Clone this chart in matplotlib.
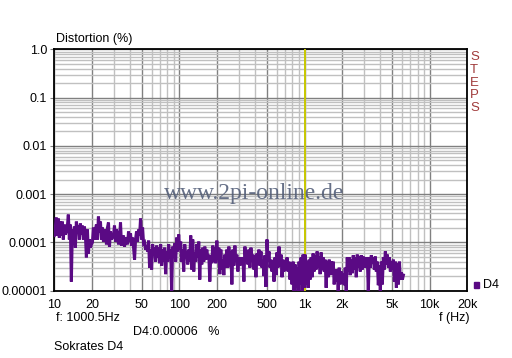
import numpy as np
import matplotlib
matplotlib.use("Agg")
import matplotlib.pyplot as plt
from matplotlib.ticker import FixedLocator, NullFormatter, LogLocator

plt.rcParams['font.family'] = ['Liberation Sans', 'DejaVu Sans']

# ---- data (distortion values in units of 1e-5 %) ----
f_start = 10.0
f_stop = 6170.0
d4_seg_a = [13.9, 20.3, 32.7, 13.9, 31.2, 12.6, 27.0, 13.9, 27.0, 11.5, 23.4, 14.6, 16.8, 21.3, 37.7, 11.5,
            23.4, 1.55, 18.5, 9.1, 21.3, 7.8, 27.0, 16.8, 22.3, 11.5, 24.6, 14.6, 22.3, 11.5, 21.3, 13.9,
            4.9, 18.5, 5.9, 11.5, 7.8, 9.1, 10.0, 20.3, 11.5, 18.5, 23.4, 11.5, 34.3, 16.0, 27.0, 11.5,
            20.3, 10.4, 12.6, 18.5, 9.1, 20.3, 25.8, 8.2, 16.8, 11.5, 12.6, 13.9, 22.3, 10.4, 18.5, 13.9]
d4_seg_b = [9.1, 12.6, 25.8, 8.6, 11.5, 13.9, 8.2, 12.6, 11.5, 9.1, 16.8, 10.4, 15.3, 8.6, 12.6, 7.8,
            4.4, 11.5, 16.8, 10.4, 18.5, 13.9, 31.2, 11.5, 20.3, 9.5, 10.0, 7.1, 8.6, 6.5, 10.9, 3.0,
            7.1, 2.75, 9.1, 5.4, 7.8, 4.0, 8.6, 4.9, 7.8, 3.7, 9.1, 3.3, 7.1, 4.0, 7.8, 2.2,
            6.5, 4.0, 9.1, 5.4, 7.1, 0.95, 8.2, 4.9, 9.5, 4.0, 12.6, 6.5, 14.6, 7.1]
d4_seg_c = [10.4, 4.0, 7.1, 2.5, 9.1, 5.6, 6.5, 3.5, 7.1, 4.0, 13.9, 2.75, 11.5, 2.5, 6.2, 4.0,
            9.1, 4.9, 10.4, 1.7, 7.1, 3.5, 7.8, 4.0, 8.2, 4.4, 7.1, 4.9, 5.6, 1.55, 5.4, 3.7,
            8.6, 4.0, 7.8, 3.7, 10.9, 4.4, 7.8, 2.2, 7.1, 2.75, 4.4, 2.1, 5.6, 3.0, 7.1, 3.0,
            8.2, 4.0, 6.5, 1.35, 7.1, 3.3, 8.6, 4.0, 5.6, 2.5, 4.9, 3.3, 4.9, 3.5]
d4_seg_d = [4.9, 1.55, 8.2, 4.0, 6.5, 3.5, 7.1, 3.0, 7.8, 4.0, 5.6, 2.75, 5.4, 1.9, 5.9, 4.0,
            7.1, 3.3, 6.5, 3.0, 4.0, 2.0, 5.4, 1.2, 11.5, 4.0, 6.5, 3.0, 4.4, 2.5, 4.0, 1.55,
            4.9, 2.1, 6.2, 3.0, 8.2, 3.3, 5.6, 1.9, 4.4, 2.5, 4.0, 2.75, 4.9, 2.5, 4.0, 1.7,
            3.7, 1.35, 4.0, 0.95, 3.5, 1.15, 3.0, 0.95, 4.0, 1.35, 4.9, 0.95, 5.6, 1.15]
d4_seg_e = [5.6, 1.35, 4.0, 1.15, 4.4, 1.7, 4.9, 1.9, 5.9, 2.5, 5.4, 2.75, 6.5, 3.0, 5.1, 2.2,
            6.2, 2.75, 4.9, 2.5, 4.4, 1.15, 4.0, 1.9, 4.4, 2.1, 4.0, 2.2, 4.0, 1.35, 2.75, 1.55,
            2.75, 0.95, 3.0, 1.35, 2.5, 1.4, 2.3, 1.3, 3.0, 0.95, 4.9, 2.5, 4.9, 2.1, 4.4, 2.3,
            5.4, 2.75, 4.9, 1.9, 5.6, 3.0, 5.1, 2.5, 5.4, 2.75, 5.1, 3.0, 4.9, 3.0]
d4_seg_f = [4.9, 0.95, 4.9, 3.0, 5.4, 3.7, 4.9, 2.75, 5.1, 2.5, 4.0, 1.3, 3.3, 0.95, 4.0, 1.35,
            4.9, 2.75, 6.5, 3.5, 5.6, 3.0, 4.9, 2.5, 4.0, 2.75, 4.4, 1.55, 4.0, 1.15, 3.7, 1.35,
            4.0, 1.7, 2.4, 1.7, 2.1]
marker_freq = 1000.5
x_ticks = [10, 20, 50, 100, 200, 500, 1000, 2000, 5000, 10000, 20000]
x_labels = ['10', '20', '50', '100', '200', '500', '1k', '2k', '5k', '10k', '20k']
y_ticks = [1e-5, 1e-4, 1e-3, 1e-2, 1e-1, 1.0]
y_labels = ['0.00001', '0.0001', '0.001', '0.01', '0.1', '1.0']

d4 = np.array(d4_seg_a + d4_seg_b + d4_seg_c + d4_seg_d + d4_seg_e + d4_seg_f) * 1e-5
freqs = np.geomspace(f_start, f_stop, len(d4))

W, H = 512, 358
fig = plt.figure(figsize=(W / 100, H / 100), dpi=100)
fig.patch.set_facecolor('white')
ax = fig.add_axes([54.3 / W, 1 - 290.7 / H, (467.3 - 54.3) / W, (290.7 - 49.3) / H])
ax.set_xscale('log')
ax.set_yscale('log')
ax.set_xlim(10, 20000)
ax.set_ylim(1e-5, 1.0)

# grid
ax.xaxis.set_minor_locator(LogLocator(base=10, subs=np.arange(2, 10)))
ax.yaxis.set_minor_locator(LogLocator(base=10, subs=np.arange(2, 10)))
ax.grid(True, which='minor', color='#c0c0c0', lw=1.0)
ax.grid(True, which='major', color='#808080', lw=1.0)
ax.set_axisbelow(True)

ax.xaxis.set_major_locator(FixedLocator(x_ticks))
ax.set_xticklabels(x_labels)
ax.yaxis.set_major_locator(FixedLocator(y_ticks))
ax.set_yticklabels(y_labels)
ax.xaxis.set_minor_formatter(NullFormatter())
ax.yaxis.set_minor_formatter(NullFormatter())
ax.tick_params(which='minor', length=0)
ax.tick_params(which='major', length=3, color='#808080', labelsize=9, pad=2)
ax.tick_params(axis='x', which='major', length=0, pad=6)

for s in ax.spines.values():
    s.set_color('black')
    s.set_linewidth(1.3)

ax.axvline(marker_freq, color='#c8c800', lw=1.4, zorder=3)
ax.plot(freqs, d4, color='#5a0a84', lw=2.2, solid_joinstyle='miter', zorder=4)

# texts
fig.text(56 / W, 1 - 39 / H, 'Distortion (%)', fontsize=9, va='center', ha='left')
fig.text(439 / W, 1 - 318 / H, 'f (Hz)', fontsize=9, va='center', ha='left')
fig.text(56 / W, 1 - 318 / H, 'f: 1000.5Hz', fontsize=9, va='center', ha='left')
fig.text(133 / W, 1 - 332 / H, 'D4:0.00006   %', fontsize=9, va='center', ha='left')
fig.text(54 / W, 1 - 347 / H, 'Sokrates D4', fontsize=9, va='center', ha='left')
fig.text(254 / W, 1 - 193 / H, 'www.2pi-online.de', fontsize=17, va='center', ha='center',
         family=['Liberation Serif', 'DejaVu Serif'], color='#55607a', alpha=0.9, zorder=5)
for i, ch in enumerate('STEPS'):
    fig.text(470 / W, 1 - (57 + i * 12.8) / H, ch, fontsize=9.5, va='center', ha='left', color='#a03a3a')
# legend
fig.patches.append(plt.Rectangle((474 / W, 1 - 288 / H), 5 / W, 6 / H, transform=fig.transFigure,
                                 color='#5a0a84', figure=fig))
fig.text(483 / W, 1 - 285 / H, 'D4', fontsize=9, va='center', ha='left')

fig.savefig('out.png', dpi=100)
